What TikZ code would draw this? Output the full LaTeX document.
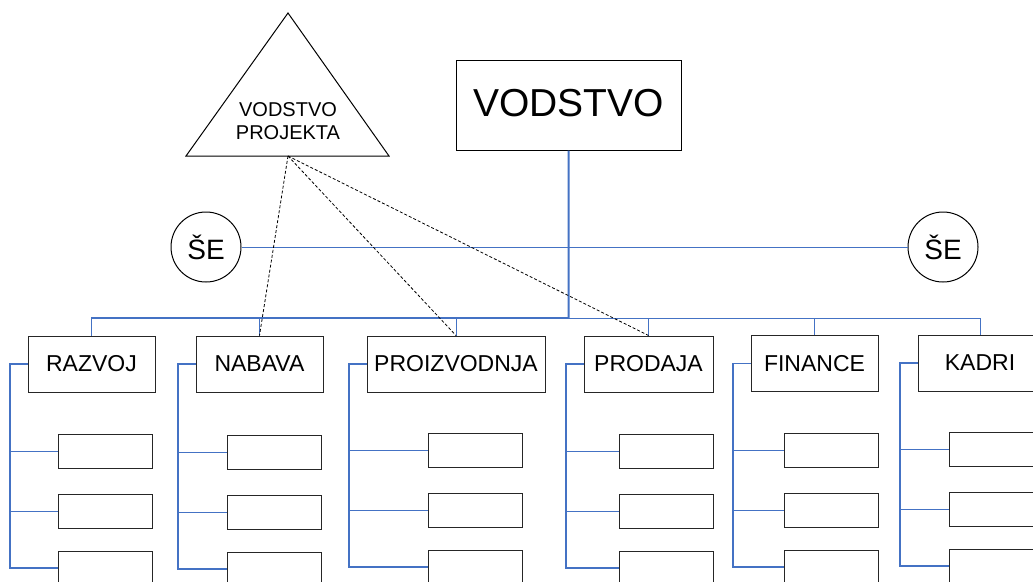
\documentclass[tikz,border=0pt]{standalone}
\usepackage{fontspec}
\setmainfont{Liberation Sans}
\usetikzlibrary{calc}
\definecolor{orgblue}{HTML}{4472C4}
\tikzset{
  dept/.style={draw=black!85, line width=1pt, fill=white, inner sep=0pt,
    minimum height=56pt, font=\fontsize{23}{27}\selectfont},
  unit/.style={draw=black!85, line width=1pt, fill=white, inner sep=0pt,
    minimum width=94pt, minimum height=34pt},
  headbox/.style={draw=black, line width=1pt, inner sep=0pt,
    minimum width=225pt, minimum height=90pt, text depth=5pt,
    font=\fontsize{39}{44}\selectfont},
  sebubble/.style={draw=black, line width=1pt, circle, inner sep=0pt,
    minimum size=70pt, font=\fontsize{28}{32}\selectfont},
  link/.style={draw=orgblue, line width=1pt},
  trunk/.style={draw=orgblue, line width=2pt},
  projlink/.style={draw=black, line width=0.8pt, dash pattern=on 3pt off 2pt},
}
\begin{document}
\begin{tikzpicture}[x=1pt,y=-1pt]
  \useasboundingbox (0,0) rectangle (1033,581);
  \clip (0,0) rectangle (1033,581);

  % project management triangle
  \draw[line width=1pt] (288,13) -- (389,156) -- (186,156) -- cycle;
  \coordinate (tribase) at (288,156);
  \node[align=center, font=\fontsize{20}{23}\selectfont] (trilabel) at (288,121)
    {VODSTVO\\PROJEKTA};

  % top management
  \node[headbox] (vod) at (568.5,105) {VODSTVO};

  % ŠE bubbles and their link
  \node[sebubble] (seL) at (206,247) {ŠE};
  \node[sebubble] (seR) at (943,247) {ŠE};
  \draw[link, line width=0.9pt] (seL) -- (seR);

  % departments
  \node[dept, minimum width=127pt] (d1) at (91.5,364) {RAZVOJ};
  \node[dept, minimum width=127pt] (d2) at (259.5,364) {NABAVA};
  \node[dept, minimum width=178pt] (d3) at (456,364) {PROIZVODNJA};
  \node[dept, minimum width=129pt] (d4) at (648.5,364) {PRODAJA};
  \node[dept, minimum width=127pt] (d5) at (814.5,363.5) {FINANCE};
  \node[dept, minimum width=124pt] (d6) at (980,363) {KADRI};

  % bus from management to departments
  \coordinate (bus) at (568.7,318);
  \draw[trunk] (vod.south) -- (bus);
  \draw[link, line width=1.3pt] (d1.north) |- (bus);
  \draw[link] (bus) -| (d6.north);
  \foreach \d in {d2,d3,d4,d5}
    \draw[link] (\d.north) -- (\d.north |- bus);

  % units under each department
  \foreach \d/\cx/\ya/\yb/\yc in {d1/105/451/511/568, d2/274/452/512/569,
      d3/475/450/510/567, d4/666/451/511/568, d5/831/450/510/567,
      d6/996/449/509/566} {
    \node[unit] (\d-a) at (\cx,\ya) {};
    \node[unit] (\d-b) at (\cx,\yb) {};
    \node[unit] (\d-c) at (\cx,\yc) {};
    \coordinate (\d-spine) at ($(\d.west)+(-17.5,0)$);
    \draw[link, line width=1.3pt] (\d.west) -- (\d-spine) |- (\d-c.west);
    \draw[link] (\d-a.west) -- (\d-a.west -| \d-spine);
    \draw[link] (\d-b.west) -- (\d-b.west -| \d-spine);
  }

  % project management links
  \draw[projlink] (tribase) -- (d2.north);
  \draw[projlink] (tribase) -- (d3.north);
  \draw[projlink] (tribase) -- (d4.north);
\end{tikzpicture}
\end{document}
